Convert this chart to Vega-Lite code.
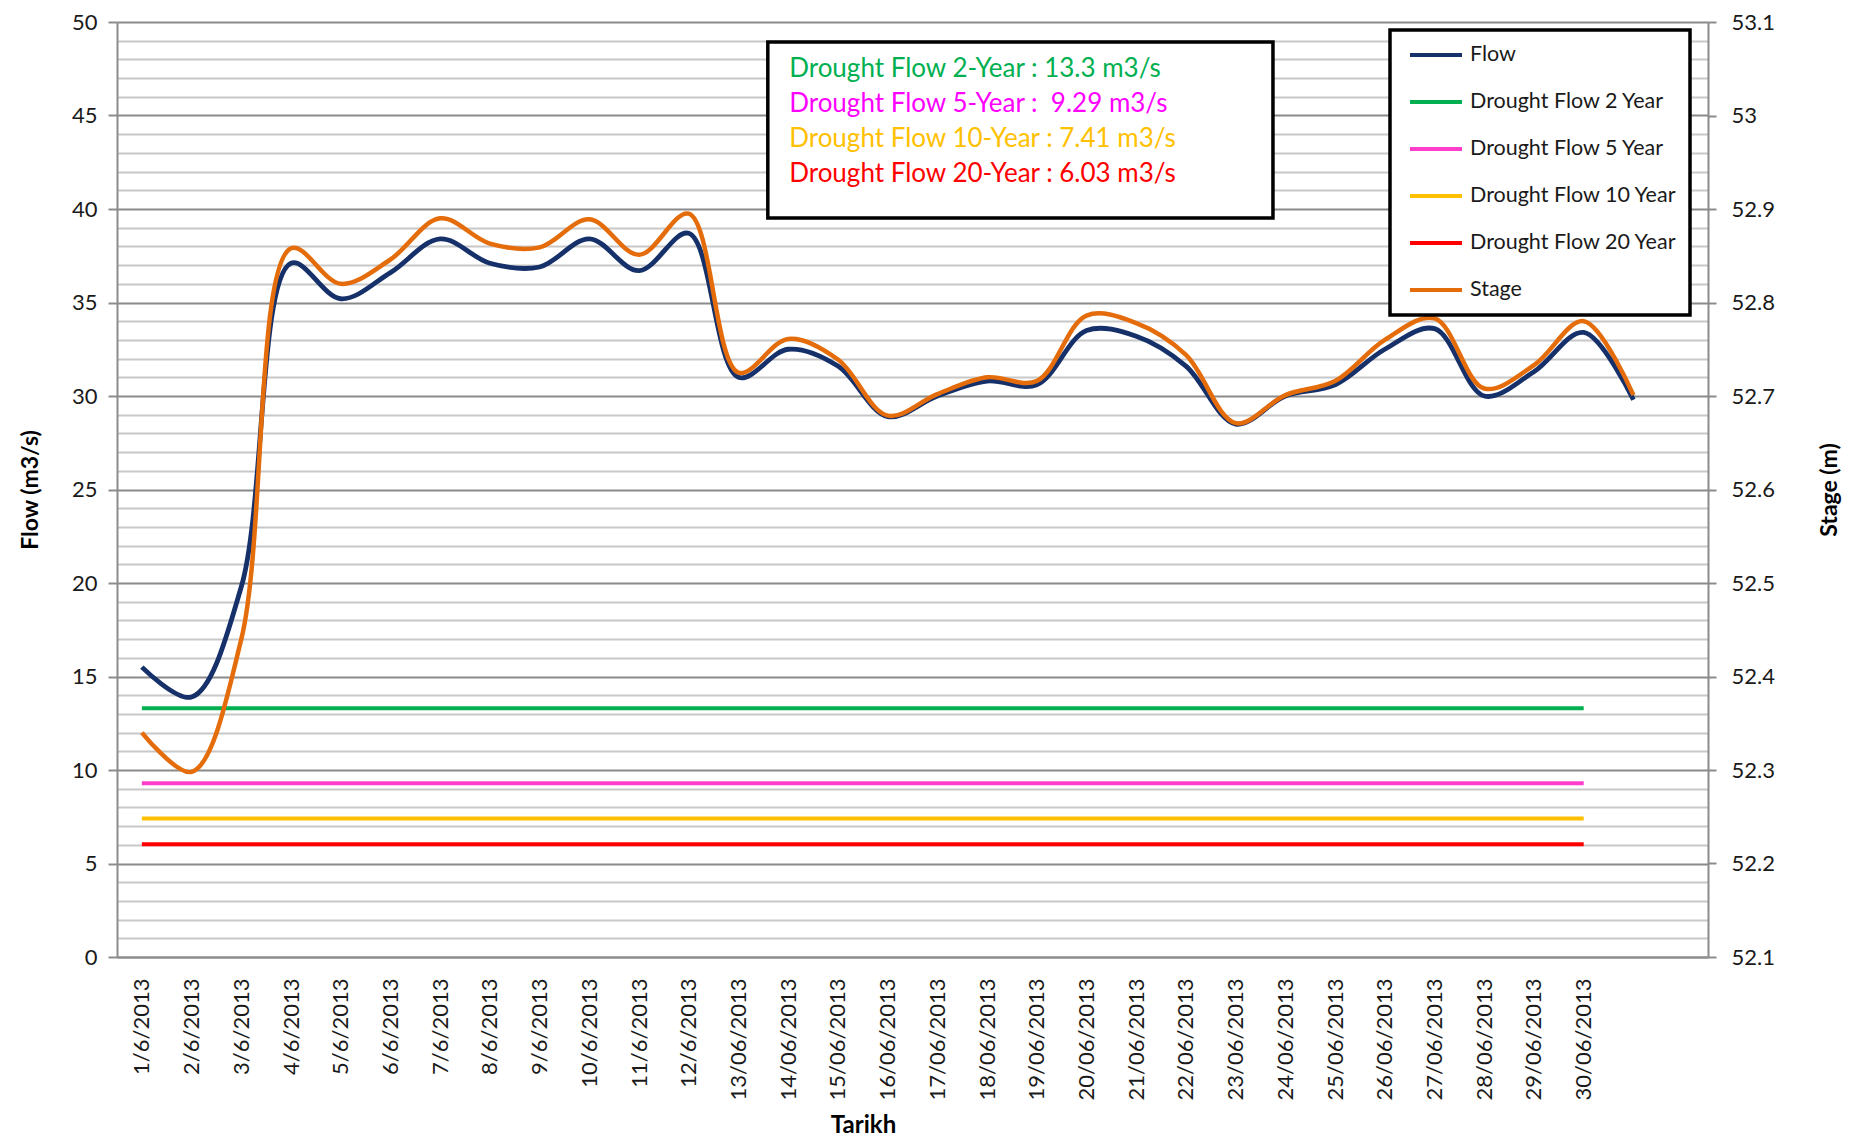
{
  "$schema": "https://vega.github.io/schema/vega-lite/v6.json",
  "width": 1591,
  "height": 935,
  "autosize": {"type": "none"},
  "padding": {"left": 117, "top": 22, "right": 152, "bottom": 183},
  "background": "white",
  "config": {
    "font": "Lato",
    "view": {"stroke": null},
    "axis": {"labelFont": "Lato", "titleFont": "Lato", "labelColor": "#1a1a1a", "titleColor": "#000000"}
  },
  "datasets": {
    "daily": [
      {"day": 1, "Tarikh": "1/6/2013", "Flow": 15.5, "Stage": 52.340},
      {"day": 2, "Tarikh": "2/6/2013", "Flow": 13.9, "Stage": 52.298},
      {"day": 3, "Tarikh": "3/6/2013", "Flow": 19.8, "Stage": 52.440},
      {"day": 4, "Tarikh": "4/6/2013", "Flow": 37.1, "Stage": 52.858},
      {"day": 5, "Tarikh": "5/6/2013", "Flow": 35.2, "Stage": 52.820},
      {"day": 6, "Tarikh": "6/6/2013", "Flow": 36.6, "Stage": 52.846},
      {"day": 7, "Tarikh": "7/6/2013", "Flow": 38.4, "Stage": 52.890},
      {"day": 8, "Tarikh": "8/6/2013", "Flow": 37.1, "Stage": 52.863},
      {"day": 9, "Tarikh": "9/6/2013", "Flow": 36.9, "Stage": 52.859},
      {"day": 10, "Tarikh": "10/6/2013", "Flow": 38.4, "Stage": 52.889},
      {"day": 11, "Tarikh": "11/6/2013", "Flow": 36.7, "Stage": 52.851},
      {"day": 12, "Tarikh": "12/6/2013", "Flow": 38.7, "Stage": 52.895},
      {"day": 13, "Tarikh": "13/06/2013", "Flow": 31.0, "Stage": 52.725},
      {"day": 14, "Tarikh": "14/06/2013", "Flow": 32.5, "Stage": 52.761},
      {"day": 15, "Tarikh": "15/06/2013", "Flow": 31.6, "Stage": 52.739},
      {"day": 16, "Tarikh": "16/06/2013", "Flow": 28.9, "Stage": 52.679},
      {"day": 17, "Tarikh": "17/06/2013", "Flow": 30.0, "Stage": 52.702},
      {"day": 18, "Tarikh": "18/06/2013", "Flow": 30.8, "Stage": 52.720},
      {"day": 19, "Tarikh": "19/06/2013", "Flow": 30.6, "Stage": 52.716},
      {"day": 20, "Tarikh": "20/06/2013", "Flow": 33.5, "Stage": 52.786},
      {"day": 21, "Tarikh": "21/06/2013", "Flow": 33.2, "Stage": 52.778},
      {"day": 22, "Tarikh": "22/06/2013", "Flow": 31.6, "Stage": 52.744},
      {"day": 23, "Tarikh": "23/06/2013", "Flow": 28.5, "Stage": 52.671},
      {"day": 24, "Tarikh": "24/06/2013", "Flow": 30.0, "Stage": 52.701},
      {"day": 25, "Tarikh": "25/06/2013", "Flow": 30.6, "Stage": 52.716},
      {"day": 26, "Tarikh": "26/06/2013", "Flow": 32.5, "Stage": 52.760},
      {"day": 27, "Tarikh": "27/06/2013", "Flow": 33.6, "Stage": 52.783},
      {"day": 28, "Tarikh": "28/06/2013", "Flow": 30.0, "Stage": 52.708},
      {"day": 29, "Tarikh": "29/06/2013", "Flow": 31.3, "Stage": 52.733},
      {"day": 30, "Tarikh": "30/06/2013", "Flow": 33.4, "Stage": 52.780},
      {"day": 31, "Tarikh": "", "Flow": 29.8, "Stage": 52.701}
    ],
    "drought": [
      {"series": "Drought Flow 2 Year", "value": 13.3},
      {"series": "Drought Flow 5 Year", "value": 9.29},
      {"series": "Drought Flow 10 Year", "value": 7.41},
      {"series": "Drought Flow 20 Year", "value": 6.03}
    ],
    "note": [{}]
  },
  "resolve": {"scale": {"x": "independent", "y": "independent"}},
  "layer": [
    {
      "layer": [
        {
          "data": {"name": "drought"},
          "mark": {"type": "rule", "strokeWidth": 4},
          "encoding": {
            "x": {"datum": "1/6/2013", "type": "ordinal",
              "scale": {"type": "point", "padding": 0.5, "domain": ["1/6/2013","2/6/2013","3/6/2013","4/6/2013","5/6/2013","6/6/2013","7/6/2013","8/6/2013","9/6/2013","10/6/2013","11/6/2013","12/6/2013","13/06/2013","14/06/2013","15/06/2013","16/06/2013","17/06/2013","18/06/2013","19/06/2013","20/06/2013","21/06/2013","22/06/2013","23/06/2013","24/06/2013","25/06/2013","26/06/2013","27/06/2013","28/06/2013","29/06/2013","30/06/2013",""," "]},
              "axis": {"title": "Tarikh", "labelAngle": -90, "labelAlign": "right", "labelBaseline": "middle", "labelFontSize": 22, "labelPadding": 21, "labelOverlap": false, "labelBound": false, "ticks": false, "grid": false, "domainColor": "#8c8c8c", "domainWidth": 2, "titleFontSize": 24, "titleFontWeight": "bold", "titlePadding": 14, "titleX": 746}},
            "x2": {"datum": "30/06/2013"},
            "y": {"field": "value", "type": "quantitative",
              "scale": {"domain": [0, 50], "nice": false, "zero": true},
              "axis": {"title": "Flow (m3/s)", "orient": "left",
                "values": [0,1,2,3,4,5,6,7,8,9,10,11,12,13,14,15,16,17,18,19,20,21,22,23,24,25,26,27,28,29,30,31,32,33,34,35,36,37,38,39,40,41,42,43,44,45,46,47,48,49,50],
                "labelExpr": "datum.value % 5 === 0 ? datum.label : ''",
                "labelFontSize": 22, "labelPadding": 11, "tickSize": 9, "tickWidth": 2, "tickColor": "#8c8c8c",
                "tickOpacity": {"condition": {"test": "datum.value % 5 === 0", "value": 1}, "value": 0},
                "grid": true, "gridWidth": 1.8,
                "gridColor": {"condition": {"test": "datum.value % 5 === 0", "value": "#8a8a8a"}, "value": "#c8c8c8"},
                "domainColor": "#8c8c8c", "domainWidth": 2,
                "titleFontSize": 23, "titleFontWeight": "bold", "titlePadding": 29}},
            "color": {"field": "series", "type": "nominal"}
          }
        },
        {
          "data": {"name": "daily"},
          "transform": [{"fold": ["Flow"], "as": ["series", "v"]}],
          "mark": {"type": "line", "interpolate": "catmull-rom", "strokeWidth": 4.8},
          "encoding": {
            "x": {"field": "Tarikh", "type": "ordinal",
              "scale": {"type": "point", "padding": 0.5, "domain": ["1/6/2013","2/6/2013","3/6/2013","4/6/2013","5/6/2013","6/6/2013","7/6/2013","8/6/2013","9/6/2013","10/6/2013","11/6/2013","12/6/2013","13/06/2013","14/06/2013","15/06/2013","16/06/2013","17/06/2013","18/06/2013","19/06/2013","20/06/2013","21/06/2013","22/06/2013","23/06/2013","24/06/2013","25/06/2013","26/06/2013","27/06/2013","28/06/2013","29/06/2013","30/06/2013",""," "]},
              "axis": {"title": "Tarikh", "labelAngle": -90, "labelAlign": "right", "labelBaseline": "middle", "labelFontSize": 22, "labelPadding": 21, "labelOverlap": false, "labelBound": false, "ticks": false, "grid": false, "domainColor": "#8c8c8c", "domainWidth": 2, "titleFontSize": 24, "titleFontWeight": "bold", "titlePadding": 14, "titleX": 746}},
            "y": {"field": "v", "type": "quantitative",
              "scale": {"domain": [0, 50], "nice": false, "zero": true},
              "axis": {"title": "Flow (m3/s)", "orient": "left",
                "values": [0,1,2,3,4,5,6,7,8,9,10,11,12,13,14,15,16,17,18,19,20,21,22,23,24,25,26,27,28,29,30,31,32,33,34,35,36,37,38,39,40,41,42,43,44,45,46,47,48,49,50],
                "labelExpr": "datum.value % 5 === 0 ? datum.label : ''",
                "labelFontSize": 22, "labelPadding": 11, "tickSize": 9, "tickWidth": 2, "tickColor": "#8c8c8c",
                "tickOpacity": {"condition": {"test": "datum.value % 5 === 0", "value": 1}, "value": 0},
                "grid": true, "gridWidth": 1.8,
                "gridColor": {"condition": {"test": "datum.value % 5 === 0", "value": "#8a8a8a"}, "value": "#c8c8c8"},
                "domainColor": "#8c8c8c", "domainWidth": 2,
                "titleFontSize": 23, "titleFontWeight": "bold", "titlePadding": 29}},
            "order": {"field": "day", "type": "quantitative"},
            "color": {"field": "series", "type": "nominal",
              "scale": {"domain": ["Flow", "Drought Flow 2 Year", "Drought Flow 5 Year", "Drought Flow 10 Year", "Drought Flow 20 Year", "Stage"],
                        "range": ["#16306a", "#00B050", "#FF3FCB", "#FFC000", "#FF0000", "#E46C0A"]},
              "legend": {"title": null, "orient": "none", "legendX": 1273, "legendY": 8,
                "symbolType": "stroke", "symbolSize": 2704, "symbolStrokeWidth": 4,
                "clipHeight": 24, "rowPadding": 23,
                "labelFontSize": 21.5, "labelFont": "Lato", "labelColor": "#1a1a1a", "labelLimit": 400,
                "padding": 13, "symbolOffset": 5, "labelOffset": 6,
                "fillColor": "white", "strokeColor": "black",
                "encode": {"legend": {"update": {"strokeWidth": {"value": 3.5}}}}}}
          }
        }
      ]
    },
    {
      "data": {"name": "daily"},
      "transform": [{"fold": ["Stage"], "as": ["series", "v"]}],
      "mark": {"type": "line", "interpolate": "catmull-rom", "strokeWidth": 4.5},
      "encoding": {
        "x": {"field": "Tarikh", "type": "ordinal",
          "scale": {"type": "point", "padding": 0.5, "domain": ["1/6/2013","2/6/2013","3/6/2013","4/6/2013","5/6/2013","6/6/2013","7/6/2013","8/6/2013","9/6/2013","10/6/2013","11/6/2013","12/6/2013","13/06/2013","14/06/2013","15/06/2013","16/06/2013","17/06/2013","18/06/2013","19/06/2013","20/06/2013","21/06/2013","22/06/2013","23/06/2013","24/06/2013","25/06/2013","26/06/2013","27/06/2013","28/06/2013","29/06/2013","30/06/2013",""," "]},
          "axis": null},
        "y": {"field": "v", "type": "quantitative",
          "scale": {"domain": [52.1, 53.1], "nice": false, "zero": false},
          "axis": {"title": "Stage (m)", "orient": "right",
            "values": [52.1, 52.2, 52.3, 52.4, 52.5, 52.6, 52.7, 52.8, 52.9, 53, 53.1],
            "format": "~g", "labelFontSize": 22, "labelPadding": 15, "tickSize": 8, "tickWidth": 2, "tickColor": "#8c8c8c",
            "grid": false, "domainColor": "#8c8c8c", "domainWidth": 2,
            "titleFontSize": 23, "titleFontWeight": "bold", "titleAngle": 270, "titleBaseline": "top", "titlePadding": 44}},
        "order": {"field": "day", "type": "quantitative"},
        "color": {"field": "series", "type": "nominal"}
      }
    },
    {
      "data": {"name": "note"},
      "layer": [
        {
          "mark": {"type": "rect", "fill": "white", "stroke": "black", "strokeWidth": 3.5},
          "encoding": {
            "x": {"datum": 13.09, "type": "quantitative", "scale": {"domain": [0, 32], "nice": false, "zero": false}, "axis": null},
            "x2": {"datum": 23.25},
            "y": {"datum": 48.93, "type": "quantitative", "scale": {"domain": [0, 50], "nice": false}, "axis": null},
            "y2": {"datum": 39.52}
          }
        },
        {
          "mark": {"type": "text", "align": "left", "baseline": "middle", "fontSize": 26, "font": "Lato", "color": "#00B050", "text": "Drought Flow 2-Year : 13.3 m3/s"},
          "encoding": {"x": {"datum": 13.52, "type": "quantitative"}, "y": {"datum": 47.5, "type": "quantitative"}}
        },
        {
          "mark": {"type": "text", "align": "left", "baseline": "middle", "fontSize": 26, "font": "Lato", "color": "#FF00FF", "text": "Drought Flow 5-Year : \u00a09.29 m3/s"},
          "encoding": {"x": {"datum": 13.52, "type": "quantitative"}, "y": {"datum": 45.6, "type": "quantitative"}}
        },
        {
          "mark": {"type": "text", "align": "left", "baseline": "middle", "fontSize": 26, "font": "Lato", "color": "#FFC000", "text": "Drought Flow 10-Year : 7.41 m3/s"},
          "encoding": {"x": {"datum": 13.52, "type": "quantitative"}, "y": {"datum": 43.75, "type": "quantitative"}}
        },
        {
          "mark": {"type": "text", "align": "left", "baseline": "middle", "fontSize": 26, "font": "Lato", "color": "#FF0000", "text": "Drought Flow 20-Year : 6.03 m3/s"},
          "encoding": {"x": {"datum": 13.52, "type": "quantitative"}, "y": {"datum": 41.85, "type": "quantitative"}}
        }
      ]
    }
  ]
}
